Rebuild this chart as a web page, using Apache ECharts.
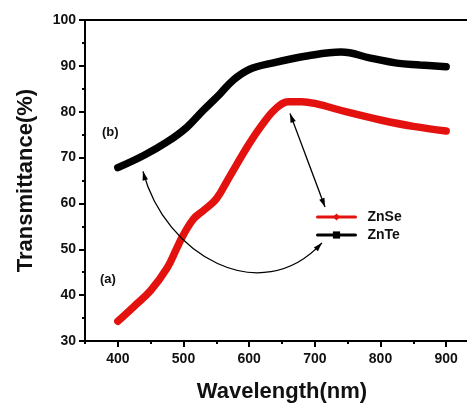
<!DOCTYPE html>
<html>
<head>
<meta charset="utf-8">
<script src="https://cdn.jsdelivr.net/npm/echarts@6/dist/echarts.min.js"></script>
<style>
html,body{margin:0;padding:0;background:#fff;}
#chart{width:467px;height:403px;}
</style>
</head>
<body>
<div id="chart"></div>
<script>
// ---- data ----
const wavelengthZnSe = [400, 425, 450, 475, 490, 500, 515, 530, 550, 570, 600, 620, 640, 660, 680, 700, 750, 800, 850, 900];
const transZnSe      = [34.3, 37.6, 41.0, 45.9, 50.3, 53.2, 56.6, 58.4, 61.0, 65.8, 73.0, 77.2, 80.6, 82.2, 82.2, 81.8, 79.9, 78.2, 76.8, 75.8];
const wavelengthZnTe = [400, 440, 475, 505, 530, 555, 575, 600, 635, 690, 740, 785, 825, 860, 900];
const transZnTe      = [67.8, 70.5, 73.4, 76.6, 80.3, 83.8, 86.8, 89.2, 90.6, 92.2, 93.0, 91.7, 90.6, 90.2, 89.8];
const xTickLabels = [400, 500, 600, 700, 800, 900];
const seriesNames = ['ZnSe', 'ZnTe'];
const xTitle = 'Wavelength(nm)';
const yTitle = 'Transmittance(%)';
// annotation arrows in data coordinates
const curvedArrow = [[438.3, 67.0], [471.8, 48.8], [616.5, 36.8], [710.9, 51.4]];
const straightArrow = [[662.2, 79.6], [715.5, 59.2]];

const FONT = '"Liberation Sans", Arial, sans-serif';
const RED = '#e3120f';
const BLACK = '#000000';

const pair = (xs, ys) => xs.map((x, i) => [x, ys[i]]);

const chart = echarts.init(document.getElementById('chart'), null, {renderer: 'canvas'});

const option = {
  animation: false,
  backgroundColor: '#ffffff',
  grid: {left: 85, top: 20, width: 394, bottom: 62, containLabel: false, outerBoundsMode: 'none'},
  xAxis: [
    {
      type: 'value', position: 'bottom', min: 350, max: 950,
      name: xTitle, nameLocation: 'middle', nameGap: 40,
      nameTextStyle: {fontFamily: FONT, fontSize: 22, fontWeight: 'bold', color: '#111'},
      axisLine: {show: true, onZero: false, lineStyle: {color: '#000', width: 2}},
      axisTick: {show: true, customValues: xTickLabels, length: 6, lineStyle: {color: '#000', width: 2}},
      axisLabel: {customValues: xTickLabels, margin: 11, fontFamily: FONT, fontSize: 14, fontWeight: 'bold', color: '#111'},
      splitLine: {show: false}
    },
    {
      type: 'value', position: 'bottom', min: 350, max: 950, interval: 50,
      axisLine: {show: false},
      axisTick: {show: true, length: 3, lineStyle: {color: '#000', width: 2}},
      axisLabel: {show: false},
      splitLine: {show: false}
    },
    {
      type: 'value', position: 'top', min: 350, max: 950,
      axisLine: {show: true, onZero: false, lineStyle: {color: '#000', width: 2}},
      axisTick: {show: false}, axisLabel: {show: false}, splitLine: {show: false}
    }
  ],
  yAxis: {
    type: 'value', min: 30, max: 100, interval: 10,
    name: yTitle, nameLocation: 'middle', nameGap: 48,
    nameTextStyle: {fontFamily: FONT, fontSize: 22, fontWeight: 'bold', color: '#111'},
    axisLine: {show: true, onZero: false, lineStyle: {color: '#000', width: 2}},
    axisTick: {show: true, length: 6, lineStyle: {color: '#000', width: 2}},
    minorTick: {show: true, splitNumber: 2, length: 3, lineStyle: {color: '#000', width: 2}},
    axisLabel: {margin: 9, fontFamily: FONT, fontSize: 14, fontWeight: 'bold', color: '#111'},
    splitLine: {show: false}
  },
  legend: {
    orient: 'vertical', left: 311, top: 205,
    itemWidth: 38, itemHeight: 9, itemGap: 4,
    data: seriesNames,
    lineStyle: {width: 3},
    textStyle: {fontFamily: FONT, fontSize: 14, fontWeight: 'bold', color: '#111', padding: [0, 0, 0, 7]}
  },
  series: [
    {
      name: seriesNames[0], type: 'line', xAxisIndex: 0, smooth: 0.4,
      data: pair(wavelengthZnSe, transZnSe),
      symbol: 'diamond', symbolSize: 9, showSymbol: false,
      itemStyle: {color: RED},
      lineStyle: {color: RED, width: 7.5, cap: 'round'},
      z: 3
    },
    {
      name: seriesNames[1], type: 'line', xAxisIndex: 0, smooth: 0.4,
      data: pair(wavelengthZnTe, transZnTe),
      symbol: 'rect', symbolSize: 7, showSymbol: false,
      itemStyle: {color: BLACK},
      lineStyle: {color: BLACK, width: 7.5, cap: 'round'},
      z: 3
    }
  ]
};
chart.setOption(option);

function px(p) { return chart.convertToPixel({xAxisIndex: 0, yAxisIndex: 0}, p); }
function arrowHead(tip, from, L, w) {
  let dx = tip[0] - from[0], dy = tip[1] - from[1];
  const len = Math.hypot(dx, dy); dx /= len; dy /= len;
  const bx = tip[0] - dx * L, by = tip[1] - dy * L;
  const nx = -dy, ny = dx;
  return {
    type: 'polygon', z: 50,
    shape: {points: [tip, [bx + nx * w, by + ny * w], [bx - nx * w, by - ny * w]]},
    style: {fill: '#000'}
  };
}
const c = curvedArrow.map(px);
const s = straightArrow.map(px);
const graphics = [
  {type: 'bezierCurve', z: 50,
   shape: {x1: c[0][0], y1: c[0][1], cpx1: c[1][0], cpy1: c[1][1], cpx2: c[2][0], cpy2: c[2][1], x2: c[3][0], y2: c[3][1]},
   style: {stroke: '#000', lineWidth: 1.3, fill: null}},
  arrowHead(c[0], c[1], 9, 2.8),
  arrowHead(c[3], c[2], 9, 2.8),
  {type: 'line', z: 50, shape: {x1: s[0][0], y1: s[0][1], x2: s[1][0], y2: s[1][1]},
   style: {stroke: '#000', lineWidth: 1.3}},
  arrowHead(s[0], s[1], 9, 2.8),
  arrowHead(s[1], s[0], 9, 2.8),
  {type: 'text', z: 50, left: 102, top: 126,
   style: {text: '(b)', font: 'bold 13px ' + FONT, fill: '#111'}},
  {type: 'text', z: 50, left: 100, top: 273,
   style: {text: '(a)', font: 'bold 13px ' + FONT, fill: '#111'}}
];
chart.setOption({graphic: graphics});
</script>
</body>
</html>
